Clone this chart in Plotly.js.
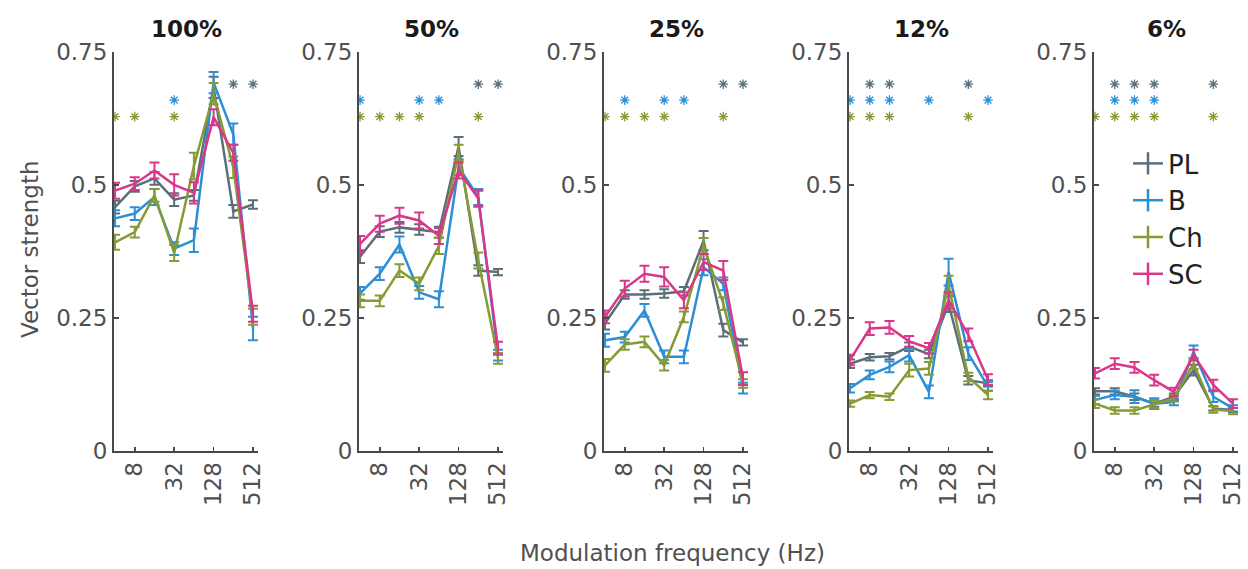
<!DOCTYPE html>
<html>
<head>
<meta charset="utf-8">
<script src="https://cdn.plot.ly/plotly-3.0.1.min.js"></script>
<style>body{margin:0;padding:0;background:#fff}#chart{width:1248px;height:569px}</style>
</head>
<body>
<div id="chart"></div>
<script>
// ---------- data ----------
const freqs = [4, 8, 16, 32, 64, 128, 256, 512];
const panels = ['100%', '50%', '25%', '12%', '6%'];
const seriesNames = ['PL', 'B', 'Ch', 'SC'];
const xTickVals = [8, 32, 128, 512];
const xTickText = ['8', '32', '128', '512'];
const yTickVals = [0, 0.25, 0.5, 0.75];
const yTickText = ['0', '0.25', '0.5', '0.75'];

// mean vector strength, per panel
const PL_100 = [0.458, 0.497, 0.512, 0.472, 0.480, 0.683, 0.450, 0.463];
const B_100  = [0.437, 0.446, 0.477, 0.380, 0.396, 0.692, 0.595, 0.230];
const Ch_100 = [0.392, 0.411, 0.480, 0.372, 0.535, 0.671, 0.533, 0.252];
const SC_100 = [0.489, 0.502, 0.527, 0.500, 0.485, 0.627, 0.560, 0.258];

const PL_50 = [0.365, 0.412, 0.420, 0.416, 0.411, 0.572, 0.339, 0.336];
const B_50  = [0.296, 0.333, 0.388, 0.298, 0.285, 0.533, 0.477, 0.180];
const Ch_50 = [0.282, 0.282, 0.339, 0.314, 0.385, 0.560, 0.358, 0.174];
const SC_50 = [0.389, 0.427, 0.442, 0.433, 0.404, 0.527, 0.474, 0.193];

const PL_25 = [0.240, 0.294, 0.294, 0.296, 0.300, 0.395, 0.227, 0.204];
const B_25  = [0.208, 0.214, 0.264, 0.177, 0.177, 0.345, 0.314, 0.118];
const Ch_25 = [0.161, 0.200, 0.205, 0.161, 0.252, 0.385, 0.277, 0.127];
const SC_25 = [0.252, 0.305, 0.333, 0.327, 0.283, 0.355, 0.339, 0.136];

const PL_12 = [0.164, 0.176, 0.178, 0.196, 0.182, 0.276, 0.133, 0.127];
const B_12  = [0.118, 0.143, 0.158, 0.180, 0.111, 0.336, 0.183, 0.121];
const Ch_12 = [0.089, 0.105, 0.102, 0.152, 0.155, 0.311, 0.139, 0.105];
const SC_12 = [0.171, 0.230, 0.232, 0.206, 0.193, 0.283, 0.218, 0.134];

const PL_6 = [0.112, 0.112, 0.102, 0.089, 0.102, 0.152, 0.080, 0.077];
const B_6  = [0.096, 0.105, 0.102, 0.089, 0.092, 0.186, 0.102, 0.080];
const Ch_6 = [0.089, 0.076, 0.076, 0.088, 0.099, 0.164, 0.078, 0.075];
const SC_6 = [0.146, 0.164, 0.157, 0.133, 0.111, 0.180, 0.124, 0.089];

// standard errors
const PL_100_err = [0.012, 0.010, 0.012, 0.012, 0.010, 0.020, 0.012, 0.008];
const B_100_err  = [0.015, 0.012, 0.015, 0.012, 0.022, 0.020, 0.020, 0.022];
const Ch_100_err = [0.014, 0.010, 0.012, 0.015, 0.025, 0.020, 0.020, 0.015];
const SC_100_err = [0.015, 0.012, 0.015, 0.020, 0.020, 0.015, 0.015, 0.015];

const PL_50_err = [0.012, 0.010, 0.010, 0.010, 0.010, 0.018, 0.010, 0.006];
const B_50_err  = [0.012, 0.012, 0.015, 0.012, 0.015, 0.015, 0.015, 0.010];
const Ch_50_err = [0.012, 0.010, 0.012, 0.012, 0.015, 0.015, 0.015, 0.010];
const SC_50_err = [0.015, 0.015, 0.015, 0.015, 0.015, 0.015, 0.015, 0.012];

const PL_25_err = [0.012, 0.008, 0.008, 0.008, 0.008, 0.018, 0.012, 0.006];
const B_25_err  = [0.012, 0.010, 0.012, 0.012, 0.012, 0.015, 0.012, 0.010];
const Ch_25_err = [0.012, 0.010, 0.010, 0.010, 0.010, 0.015, 0.012, 0.008];
const SC_25_err = [0.012, 0.015, 0.015, 0.018, 0.015, 0.015, 0.018, 0.012];

const PL_12_err = [0.008, 0.006, 0.006, 0.008, 0.008, 0.015, 0.008, 0.006];
const B_12_err  = [0.008, 0.008, 0.010, 0.012, 0.012, 0.025, 0.012, 0.008];
const Ch_12_err = [0.006, 0.006, 0.006, 0.012, 0.012, 0.018, 0.008, 0.008];
const SC_12_err = [0.010, 0.012, 0.012, 0.010, 0.010, 0.015, 0.012, 0.010];

const PL_6_err = [0.006, 0.006, 0.006, 0.006, 0.006, 0.010, 0.004, 0.004];
const B_6_err  = [0.008, 0.008, 0.012, 0.010, 0.006, 0.012, 0.010, 0.006];
const Ch_6_err = [0.008, 0.006, 0.006, 0.008, 0.006, 0.010, 0.006, 0.006];
const SC_6_err = [0.010, 0.010, 0.010, 0.010, 0.008, 0.010, 0.010, 0.008];

// significance stars (frequencies) per panel
const sigPL_100 = [256, 512];     const sigB_100 = [32];             const sigCh_100 = [4, 8, 32];
const sigPL_50  = [256, 512];     const sigB_50  = [4, 32, 64];      const sigCh_50  = [4, 8, 16, 32, 256];
const sigPL_25  = [256, 512];     const sigB_25  = [8, 32, 64];      const sigCh_25  = [4, 8, 16, 32, 256];
const sigPL_12  = [8, 16, 256];   const sigB_12  = [4, 8, 16, 64, 512]; const sigCh_12 = [4, 8, 16, 256];
const sigPL_6   = [8, 16, 32, 256]; const sigB_6 = [8, 16, 32];      const sigCh_6   = [4, 8, 16, 32, 256];
const starLevels = {PL: 0.689, B: 0.659, Ch: 0.628};

// ---------- styling ----------
const colors = {PL: '#5b6f7a', B: '#2b8fd6', Ch: '#879b34', SC: '#d8378a'};
const FONT = 'DejaVu Sans, Liberation Sans, sans-serif';
const axisColor = '#4a4a4a';

const valueSets = [
  {PL: PL_100, B: B_100, Ch: Ch_100, SC: SC_100},
  {PL: PL_50, B: B_50, Ch: Ch_50, SC: SC_50},
  {PL: PL_25, B: B_25, Ch: Ch_25, SC: SC_25},
  {PL: PL_12, B: B_12, Ch: Ch_12, SC: SC_12},
  {PL: PL_6, B: B_6, Ch: Ch_6, SC: SC_6}
];
const errSets = [
  {PL: PL_100_err, B: B_100_err, Ch: Ch_100_err, SC: SC_100_err},
  {PL: PL_50_err, B: B_50_err, Ch: Ch_50_err, SC: SC_50_err},
  {PL: PL_25_err, B: B_25_err, Ch: Ch_25_err, SC: SC_25_err},
  {PL: PL_12_err, B: B_12_err, Ch: Ch_12_err, SC: SC_12_err},
  {PL: PL_6_err, B: B_6_err, Ch: Ch_6_err, SC: SC_6_err}
];
const sigSets = [
  {PL: sigPL_100, B: sigB_100, Ch: sigCh_100},
  {PL: sigPL_50, B: sigB_50, Ch: sigCh_50},
  {PL: sigPL_25, B: sigB_25, Ch: sigCh_25},
  {PL: sigPL_12, B: sigB_12, Ch: sigCh_12},
  {PL: sigPL_6, B: sigB_6, Ch: sigCh_6}
];

const W = 1248, H = 569;
const traces = [];
const layout = {
  width: W, height: H,
  margin: {l: 0, r: 0, t: 0, b: 0},
  paper_bgcolor: '#fff', plot_bgcolor: 'rgba(0,0,0,0)',
  showlegend: true,
  font: {family: FONT, color: axisColor},
  legend: {
    x: 1128 / W, y: 1 - 140 / H, xanchor: 'left', yanchor: 'top',
    font: {family: FONT, size: 26, color: '#222'},
    bgcolor: 'rgba(0,0,0,0)', itemsizing: 'trace', tracegroupgap: 0
  },
  annotations: []
};

const yDomain = [(H - 451) / H, (H - 51.7) / H];
const xMin = Math.log10(4) - 0.016, xMax = Math.log10(512) + 0.076;

panels.forEach((p, i) => {
  const n = i + 1;
  const xa = 'x' + (n === 1 ? '' : n), ya = 'y' + (n === 1 ? '' : n);
  const left = 114 + 245 * i, right = left + 144;
  layout['xaxis' + (n === 1 ? '' : n)] = {
    domain: [left / W, right / W], anchor: ya, type: 'log',
    range: [xMin, xMax], tickvals: xTickVals, ticktext: xTickText, tickangle: -90,
    ticks: 'inside', ticklen: 4, tickwidth: 1.5, tickcolor: axisColor,
    showline: true, linecolor: axisColor, linewidth: 2, showgrid: false, zeroline: false,
    tickfont: {family: FONT, size: 23, color: '#505050'}, fixedrange: true
  };
  layout['yaxis' + (n === 1 ? '' : n)] = {
    domain: yDomain, anchor: xa, range: [0, 0.75],
    tickvals: yTickVals, ticktext: yTickText,
    ticks: 'inside', ticklen: 5, tickwidth: 1.5, tickcolor: axisColor,
    showline: true, linecolor: axisColor, linewidth: 2, showgrid: false, zeroline: false,
    tickfont: {family: FONT, size: 23, color: '#505050'}, fixedrange: true
  };
  layout.annotations.push({
    text: '<b>' + p + '</b>', xref: 'paper', yref: 'paper',
    x: (left + right) / 2 / W, y: 1 - 29 / H, xanchor: 'center', yanchor: 'middle',
    showarrow: false, font: {family: FONT, size: 23, color: '#1a1a1a'}
  });
  seriesNames.forEach(s => {
    traces.push({
      type: 'scatter', mode: 'lines', x: freqs, y: valueSets[i][s],
      xaxis: xa, yaxis: ya, showlegend: false, name: s,
      line: {color: colors[s], width: 2.5},
      error_y: {type: 'data', array: errSets[i][s], visible: true, color: colors[s], thickness: 2, width: 5}
    });
  });
  ['Ch', 'B', 'PL'].forEach(s => {
    const xs = sigSets[i][s];
    traces.push({
      type: 'scatter', mode: 'markers', x: xs, y: xs.map(() => starLevels[s]),
      xaxis: xa, yaxis: ya, showlegend: false, hoverinfo: 'skip',
      marker: {symbol: 'asterisk-open', size: 8, color: colors[s], line: {color: colors[s], width: 1.3}}
    });
  });
});

// legend entries
seriesNames.forEach(s => {
  traces.push({
    type: 'scatter', mode: 'lines+markers', x: [null], y: [null], name: s,
    xaxis: 'x5', yaxis: 'y5', showlegend: true,
    line: {color: colors[s], width: 2.5},
    marker: {symbol: 'line-ns-open', size: 24, color: colors[s], line: {color: colors[s], width: 2.5}}
  });
});

layout.annotations.push({
  text: 'Modulation frequency (Hz)', xref: 'paper', yref: 'paper',
  x: 672 / W, y: 1 - 553 / H, xanchor: 'center', yanchor: 'middle',
  showarrow: false, font: {family: FONT, size: 23, color: '#505050'}
});
layout.annotations.push({
  text: 'Vector strength', xref: 'paper', yref: 'paper', textangle: -90,
  x: 30 / W, y: 1 - 250 / H, xanchor: 'center', yanchor: 'middle',
  showarrow: false, font: {family: FONT, size: 23, color: '#505050'}
});

Plotly.newPlot('chart', traces, layout, {staticPlot: true, displayModeBar: false});
</script>
</body>
</html>
